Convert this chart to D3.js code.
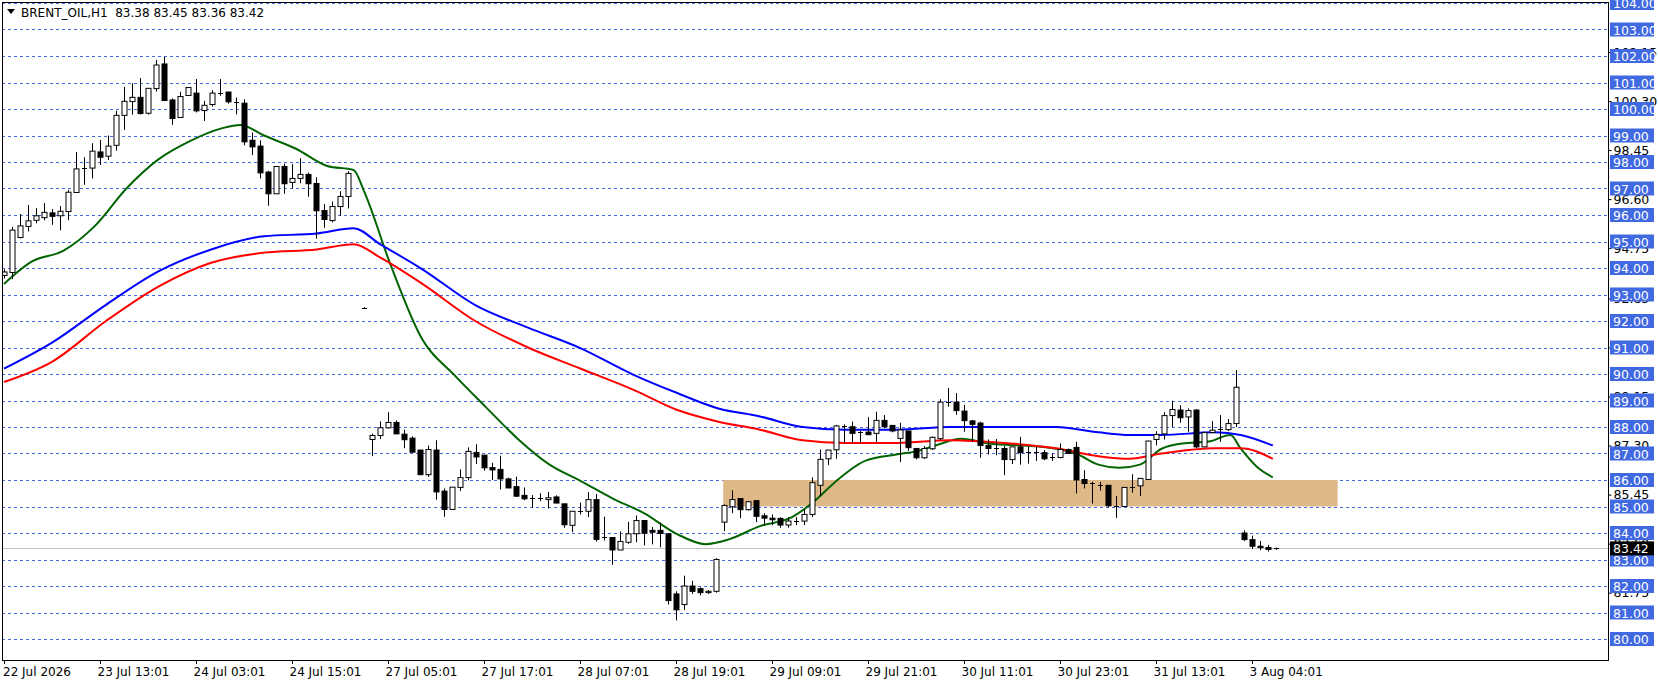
<!DOCTYPE html>
<html><head><meta charset="utf-8">
<script src="https://cdn.jsdelivr.net/npm/d3@7/dist/d3.min.js"></script>
<style>body{margin:0;background:#fff}svg{display:block}text{font-family:"DejaVu Sans",sans-serif}</style>
</head><body><svg id="c" width="1658" height="684"></svg>
<script>
const openP=[93.72,93.83,95.15,95.57,95.8,95.9,96.08,95.97,96.13,96.85,97.75,97.77,98.38,98.22,98.63,99.76,100.28,100.44,99.84,100.77,101.7,100.34,99.68,100.51,100.6,99.94,100.17,100.58,100.64,100.25,100.22,98.82,98.6,97.62,96.8,97.83,97.23,97.38,97.53,97.19,96.17,95.79,96.32,96.7,null,92.5,87.53,87.68,87.97,88.17,87.73,87.58,87.13,86.2,87.13,85.58,84.89,85.72,86.09,87.04,86.94,86.47,86.4,86.04,85.75,85.42,85.3,85.33,85.26,85.36,85.1,84.29,84.82,84.82,85.26,83.83,83.83,83.36,83.65,83.97,84.47,84.1,84.1,83.97,81.7,81.3,82.0,81.9,81.75,81.8,84.41,84.99,85.3,84.88,85.22,84.65,84.56,84.55,84.3,84.45,84.45,84.7,85.8,86.8,87.14,88.0,88.01,87.8,87.81,87.76,88.25,88.06,87.57,87.85,87.19,86.84,87.18,87.56,88.93,88.94,88.6,88.23,88.15,87.3,87.18,87.19,86.77,87.25,87.04,87.05,87.03,86.84,86.85,87.15,87.23,86.02,85.85,85.79,85.8,85.0,85.0,85.73,85.78,86.02,87.53,87.74,88.43,88.64,88.38,88.64,87.25,87.79,87.89,87.9,88.13,84.0,83.75,83.5,83.45,83.38];
const highP=[93.95,95.55,96.04,96.38,96.26,96.45,96.22,96.34,96.95,98.38,98.18,98.71,98.83,99.0,99.93,100.84,100.97,101.17,100.78,101.85,101.97,100.4,100.65,100.81,101.13,100.31,100.71,101.13,100.64,100.43,100.37,99.11,98.82,97.67,97.83,97.94,97.92,98.14,97.6,97.42,96.41,96.51,96.9,97.65,null,92.52,87.75,88.21,88.56,88.25,87.9,87.65,87.13,87.3,87.5,85.68,85.73,86.4,87.23,87.35,86.94,86.65,86.92,86.09,86.13,85.72,85.43,85.5,85.55,85.42,85.1,84.82,85.15,85.54,85.47,84.62,83.83,84.06,84.42,84.66,84.47,84.22,84.39,83.97,81.8,82.39,82.2,81.95,81.85,83.05,85.08,85.61,85.3,85.2,85.22,84.75,84.7,84.6,84.6,84.6,84.9,86.1,87.15,87.13,88.08,88.1,88.2,87.85,88.37,88.58,88.45,88.06,88.16,87.85,87.2,87.28,87.64,89.05,89.47,89.28,88.84,88.27,88.2,87.53,87.55,87.28,87.25,87.63,87.25,87.25,87.13,87.0,87.38,87.19,87.44,86.37,85.93,85.93,85.8,85.39,85.72,86.22,86.06,87.47,87.84,88.56,88.99,88.82,88.7,88.68,87.82,88.22,88.45,88.3,90.15,84.1,83.9,83.7,83.55,83.45];
const lowP=[93.6,93.58,95.12,95.38,95.69,95.8,95.63,95.42,95.8,96.83,97.14,97.38,97.89,98.08,98.43,99.21,99.79,99.79,99.79,100.66,100.32,99.4,99.68,100.51,99.87,99.55,100.09,100.5,100.2,99.8,98.63,98.26,97.38,96.35,96.8,96.8,97.0,97.2,96.69,95.11,95.52,95.72,95.97,96.25,null,92.48,86.9,87.55,87.94,87.74,87.2,87.03,86.2,86.12,85.26,84.61,84.89,85.59,85.99,86.6,86.35,86.0,85.64,85.7,85.36,85.24,84.96,85.2,84.92,85.13,84.2,84.03,84.7,84.6,83.68,83.72,82.8,83.36,83.59,83.65,83.53,83.57,83.46,81.3,80.7,81.1,81.7,81.65,81.7,81.75,84.07,84.75,84.56,84.85,84.41,84.28,84.3,84.2,84.2,84.3,84.3,84.6,85.4,86.56,86.8,87.38,87.4,87.4,87.71,87.44,87.95,87.8,86.68,87.1,86.78,86.8,87.13,87.5,88.77,88.46,87.82,87.44,86.84,86.96,86.93,86.18,86.6,86.58,86.62,86.72,86.75,86.72,86.82,87.0,85.49,85.68,85.11,85.6,84.97,84.57,85.0,85.52,85.4,86.0,87.31,87.53,88.0,88.16,87.82,87.2,87.25,87.78,87.44,87.85,88.0,83.7,83.4,83.35,83.3,83.36];
const closeP=[93.85,95.43,95.59,95.78,95.97,96.1,95.95,96.14,96.86,97.74,97.78,98.41,98.18,98.6,99.76,100.29,100.44,99.83,100.78,101.66,100.32,99.64,100.47,100.81,99.93,100.14,100.6,100.62,100.27,100.22,98.76,98.57,97.59,96.8,97.83,97.18,97.38,97.53,97.18,96.16,95.83,96.32,96.7,97.57,null,92.5,87.68,87.97,88.17,87.74,87.52,87.05,86.2,87.15,85.55,84.89,85.73,86.09,87.08,86.87,86.46,86.38,86.04,85.7,85.39,85.29,85.33,85.32,85.33,85.13,84.31,84.82,84.83,85.26,83.76,83.84,83.36,83.68,83.97,84.47,83.99,84.03,83.98,81.45,81.1,82.0,81.8,81.75,81.8,83.0,85.04,85.26,84.88,85.18,84.63,84.56,84.5,84.3,84.45,84.47,84.7,85.9,86.78,87.13,88.04,88.03,87.76,87.82,87.71,88.25,88.01,87.85,87.89,87.22,86.84,87.19,87.61,88.94,88.95,88.62,88.24,88.1,87.3,87.19,87.2,86.77,87.25,87.03,87.06,87.04,86.8,86.86,87.15,87.0,86.0,85.87,85.87,85.81,85.03,85.01,85.72,85.75,86.06,87.47,87.72,88.43,88.66,88.35,88.62,87.25,87.79,87.88,87.91,88.13,89.5,83.75,83.5,83.45,83.38,83.42];

const greenIdx=[0,3.5,7.4,11.4,15.3,19.3,23.3,27.2,29.6,32.5,36.5,40.4,43.7,45,48.3,52.3,56.3,60.2,64.2,68.1,72.1,76.1,80,84,87.7,90.6,94.5,98.5,101.1,103.8,107.7,111.7,114.3,117,119.6,123.6,127.5,131.5,134.1,136.8,139.4,142,144.7,147.3,150.6,153.3,154.6,156.6,158.6];
const greenVal=[93.4,94.25,94.65,95.6,97.0,98.1,98.8,99.27,99.4,99.0,98.5,97.85,97.7,96.9,94.14,91.3,89.96,88.76,87.56,86.6,85.96,85.3,84.75,83.98,83.58,83.76,84.26,84.6,85.15,85.9,86.73,86.97,87.1,87.36,87.56,87.36,87.3,87.18,86.98,86.58,86.46,86.58,87.18,87.38,87.45,87.7,87.18,86.5,86.1];
const blueIdx=[0,6.1,12.7,19.3,25.9,32.5,39.1,43.7,47,52.3,58.9,65.5,72.1,78.7,84,89.3,94.5,99.8,105.1,111.7,118.3,124.9,131.5,136.8,140.7,144.7,151.3,154.6,158.6];
const blueVal=[90.2,91.2,92.6,93.87,94.7,95.2,95.3,95.5,94.9,93.95,92.6,91.75,90.97,89.97,89.3,88.7,88.4,88.0,87.9,87.9,88.0,88.0,88.0,87.8,87.7,87.7,87.8,87.7,87.3];
const redIdx=blueIdx;
const redVal=[89.7,90.48,91.99,93.3,94.2,94.58,94.7,94.9,94.4,93.4,92.0,91.0,90.2,89.4,88.66,88.2,87.9,87.5,87.4,87.4,87.5,87.4,87.2,86.9,86.8,87.0,87.2,87.2,86.8];

const gridLevels=d3.range(80,105,1);
const scaleMarks=[81.75,83.60,85.45,87.30,89.15,91.00,92.85,94.75,96.60,98.45,100.30,102.15];
const dateIdx=[0,12,24,36,48,60,72,84,96,108,120,132,144,156];
const dateLabels=["22 Jul 2026","23 Jul 13:01","24 Jul 03:01","24 Jul 15:01","27 Jul 05:01","27 Jul 17:01","28 Jul 07:01","28 Jul 19:01","29 Jul 09:01","29 Jul 21:01","30 Jul 11:01","30 Jul 23:01","31 Jul 13:01","3 Aug 04:01"];
const zoneIdx=[89.9,166.7];
const zonePrice=[85,86];
const lastPrice=[83.42];
const title="BRENT_OIL,H1  83.38 83.45 83.36 83.42";

const svg=d3.select("#c");
const L=2,R=1608,T=2,B=660;
const x=d3.scaleLinear().domain([0,1]).range([4,12]);
const y=d3.scaleLinear().domain([80,104]).range([639,3]);
const g=svg.append("g");
g.append("defs").append("clipPath").attr("id","cp").append("rect").attr("x",L).attr("y",T).attr("width",R-L).attr("height",B-T);
const p=g.append("g").attr("clip-path","url(#cp)");
// grid
p.selectAll(".gl").data(gridLevels).join("line").attr("x1",L).attr("x2",R).attr("y1",d=>Math.round(y(d))+0.5).attr("y2",d=>Math.round(y(d))+0.5).attr("stroke","#4169E1").attr("stroke-dasharray","3,3");
// zone
p.append("rect").attr("x",x(zoneIdx[0])).attr("width",x(zoneIdx[1])-x(zoneIdx[0])).attr("y",y(zonePrice[1])).attr("height",y(zonePrice[0])-y(zonePrice[1])).attr("fill","#DEB887");
// last price line
p.append("line").attr("x1",L).attr("x2",R).attr("y1",Math.round(y(lastPrice[0]))+0.5).attr("y2",Math.round(y(lastPrice[0]))+0.5).attr("stroke","#c0c0c0");
// MAs
const line=d3.line().x(d=>x(d[0])).y(d=>y(d[1])).curve(d3.curveMonotoneX);
[[greenIdx,greenVal,"#006400"],[blueIdx,blueVal,"#0000ff"],[redIdx,redVal,"#ff0000"]].forEach(([ix,v,c])=>{
  p.append("path").attr("d",line(ix.map((d,i)=>[d,v[i]]))).attr("fill","none").attr("stroke",c).attr("stroke-width",2);
});
// candles
const bars=openP.map((o,i)=>({i,o,h:highP[i],l:lowP[i],c:closeP[i]})).filter(d=>d.o!=null);
const cg=p.append("g");
bars.forEach(d=>{
  const cx=Math.round(x(d.i))+0.5;
  cg.append("line").attr("x1",cx).attr("x2",cx).attr("y1",y(d.h)).attr("y2",y(d.l)).attr("stroke","#000");
  const top=y(Math.max(d.o,d.c)),bot=y(Math.min(d.o,d.c));
  if(bot-top<1.2){cg.append("line").attr("x1",cx-2.5).attr("x2",cx+2.5).attr("y1",Math.round(top)+0.5).attr("y2",Math.round(top)+0.5).attr("stroke","#000");}
  else cg.append("rect").attr("x",cx-2.5).attr("y",top).attr("width",5).attr("height",bot-top).attr("fill",d.c>=d.o?"#fff":"#000").attr("stroke","#000");
});
// border
g.append("rect").attr("x",L+0.5).attr("y",T+0.5).attr("width",R-L).attr("height",B-T).attr("fill","none").attr("stroke","#000");
// scale marks
const ax=g.append("g").attr("transform",`translate(${R+0.5},0)`).call(d3.axisRight(y).tickValues(scaleMarks).tickSize(3).tickFormat(d3.format(".2f")));
ax.select(".domain").remove();
ax.selectAll("text").attr("font-size",12.5).attr("font-family","DejaVu Sans").attr("fill","#000").attr("x",5);
// blue boxes
const lb=g.append("g");
gridLevels.forEach(v=>{
  lb.append("rect").attr("x",R+2).attr("y",y(v)-7).attr("width",44).attr("height",14).attr("fill","#4169E1");
  lb.append("text").attr("x",R+5).attr("y",y(v)+5).attr("font-size",12.5).attr("fill","#fff").text(v.toFixed(2));
});
lb.append("rect").attr("x",R+2).attr("y",y(lastPrice[0])-7).attr("width",44).attr("height",14).attr("fill","#000");
lb.append("text").attr("x",R+5).attr("y",y(lastPrice[0])+5).attr("font-size",12.5).attr("fill","#fff").text(lastPrice[0].toFixed(2));
// dates
dateIdx.forEach((d,k)=>{
  const tx=Math.round(x(d))+0.5;
  g.append("line").attr("x1",tx).attr("x2",tx).attr("y1",B).attr("y2",B+4).attr("stroke","#000");
  g.append("text").attr("x",Math.max(3,tx-3)).attr("y",B+16).attr("font-size",12).attr("fill","#000").text(dateLabels[k]);
});
// title
g.append("path").attr("d","M7,9 L15,9 L11,14 Z").attr("fill","#000");
g.append("text").attr("x",21).attr("y",17).attr("font-size",12).attr("fill","#000").attr("xml:space","preserve").style("white-space","pre").text(title);
</script></body></html>
